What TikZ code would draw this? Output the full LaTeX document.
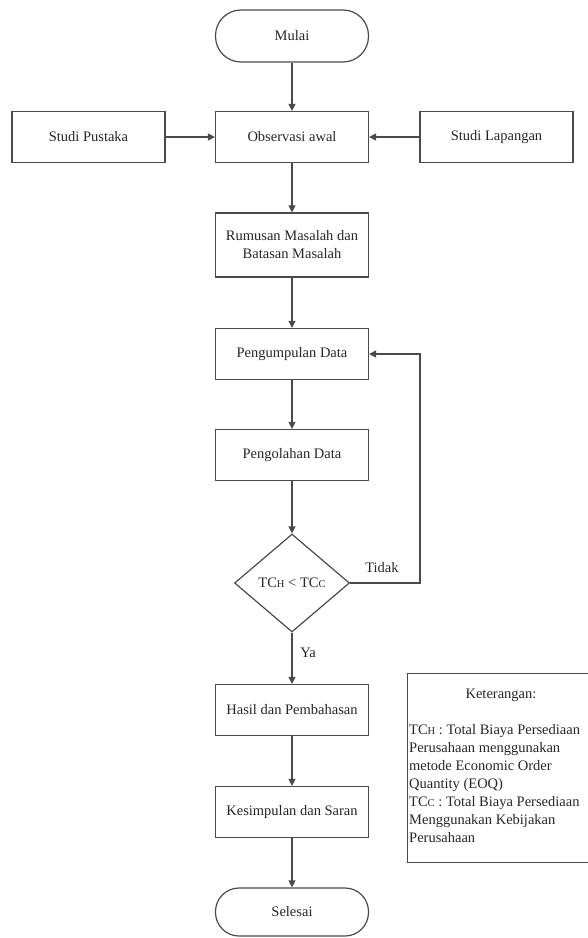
\documentclass[tikz,border=0pt]{standalone}
\usepackage{fontspec}
\setmainfont{Liberation Serif}
\newfontfamily\tnr{Liberation Serif}
\usetikzlibrary{arrows.meta,shapes.geometric}
\definecolor{linec}{HTML}{4A4A4A}
\newcommand{\smc}[1]{{\fontsize{10.5}{10.5}\selectfont #1}}
\begin{document}
\begin{tikzpicture}[x=1pt,y=-1pt,
  every node/.style={font=\tnr\fontsize{14.5}{18}\selectfont, text=black!85},
  box/.style={draw=linec, line width=1.2pt, minimum width=153pt, minimum height=51pt, inner sep=2pt, align=center},
  term/.style={draw=linec, line width=1.2pt, minimum width=153pt, minimum height=52pt, rounded corners=25.5pt},
  dec/.style={draw=linec, line width=1.2pt, diamond, minimum width=115pt, minimum height=98pt, inner sep=0pt},
  lbl/.style={inner sep=1pt},
  arr/.style={draw=linec, line width=1.2pt, -{Triangle[length=7pt,width=7pt]}}
]
\useasboundingbox (0,0) rectangle (588,938);
\node[term] (mulai) at (292,36) {Mulai};
\node[box] (obs) at (292,137) {Observasi awal};
\node[box] (pustaka) at (88.5,137) {Studi Pustaka};
\node[box] (lapangan) at (496.5,137) {Studi Lapangan};
\node[box, minimum height=64pt] (rumusan) at (292,245) {Rumusan Masalah dan\\Batasan Masalah};
\node[box] (kumpul) at (292,354) {Pengumpulan Data};
\node[box] (olah) at (292,455) {Pengolahan Data};
\node[dec] (cek) at (292,583) {TC\smc{H} {<} TC\smc{C}};
\node[box] (hasil) at (292,710) {Hasil dan Pembahasan};
\node[box] (simpul) at (292,812) {Kesimpulan dan Saran};
\node[term, minimum height=48pt, rounded corners=23.5pt] (selesai) at (292,912) {Selesai};
\coordinate (loopb) at (420,583);
\coordinate (loopt) at (420,354);
\draw[arr] (mulai) -- (obs);
\draw[arr] (pustaka) -- (obs);
\draw[arr] (lapangan) -- (obs);
\draw[arr] (obs) -- (rumusan);
\draw[arr] (rumusan) -- (kumpul);
\draw[arr] (kumpul) -- (olah);
\draw[arr] (olah) -- (cek);
\draw[arr] (cek) -- (hasil);
\draw[arr] (hasil) -- (simpul);
\draw[arr] (simpul) -- (selesai);
\draw[arr] (cek.east) -- (loopb) -- (loopt) -- (kumpul.east);
\node[lbl] (tidak) at (382,568) {Tidak};
\node[lbl] (ya) at (308,653) {Ya};
\node[draw=linec, line width=1.2pt, anchor=north west, minimum width=190pt, minimum height=189pt, inner sep=0pt] (ket) at (407,673) {};
\node[lbl] (kettitle) at (501,695) {Keterangan:};
\node[lbl, anchor=north west, align=left, inner sep=0pt] (kettext) at (409,724) {TC\smc{H} : Total Biaya Persediaan\\Perusahaan menggunakan\\metode Economic Order\\Quantity (EOQ)\\TC\smc{C} : Total Biaya Persediaan\\Menggunakan Kebijakan\\Perusahaan};
\end{tikzpicture}
\end{document}
